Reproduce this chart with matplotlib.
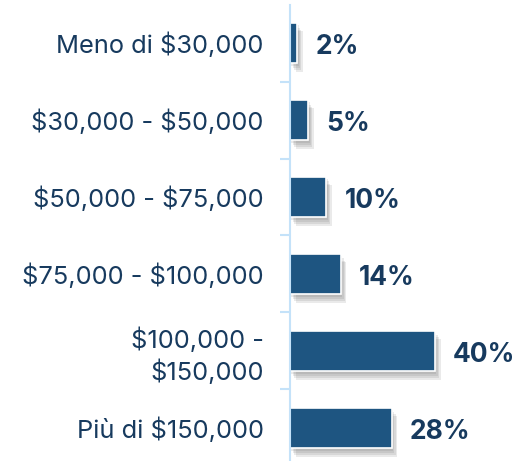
import numpy as np
import matplotlib
matplotlib.use("Agg")
import matplotlib.pyplot as plt
import matplotlib.patheffects as pe

categories = ["Meno di $30,000", "$30,000 - $50,000", "$50,000 - $75,000",
              "$75,000 - $100,000", "$100,000 -\n$150,000", "Più di $150,000"]
values = [2, 5, 10, 14, 40, 28]
labels = [f"{v}%" for v in values]

BAR = "#1e5581"
NAVY = "#173a5e"
AXIS = "#c4e2f9"

plt.rcParams["font.family"] = ["Inter", "DejaVu Sans"]

fig = plt.figure(figsize=(5.17, 4.61), dpi=100)
ax = fig.add_axes([0.561, 0.0, 0.439, 0.990])

y = np.arange(len(categories))
bars = ax.barh(y, values, height=0.53, color=BAR, edgecolor="white", linewidth=1.2)
# soft drop shadow: a few stacked offsets
shadow = [pe.SimplePatchShadow(offset=(dx, -dy), shadow_rgbFace="#555555", alpha=0.12)
          for dx, dy in [(1, 2), (2, 3.5), (3, 5), (4, 6)]]
for b in bars:
    b.set_path_effects(shadow + [pe.Normal()])

for b, t in zip(bars, labels):
    ax.annotate(t, xy=(b.get_width(), b.get_y() + b.get_height() / 2), xytext=(13, -3),
                textcoords="offset points", va="center", ha="left",
                fontsize=19, fontweight="bold", color=NAVY)

ax.set_xlim(0, 62.6)
ax.set_ylim(5.43, -0.5)
ax.set_yticks(y)
ticklabels = ax.set_yticklabels(categories, fontsize=18.3, color=NAVY, ha="right",
                                linespacing=1.3)
for t in ticklabels:
    t.set_parse_math(False)
ax.tick_params(axis="y", which="major", length=0, pad=19)
ax.set_yticks(y[:-1] + 0.5, minor=True)
ax.tick_params(axis="y", which="minor", length=7, width=1.5, color=AXIS)
ax.set_xticks([])
for s in ["top", "right", "bottom"]:
    ax.spines[s].set_visible(False)
ax.spines["left"].set_color(AXIS)
ax.spines["left"].set_linewidth(1.5)

fig.savefig("out.png", dpi=100)
